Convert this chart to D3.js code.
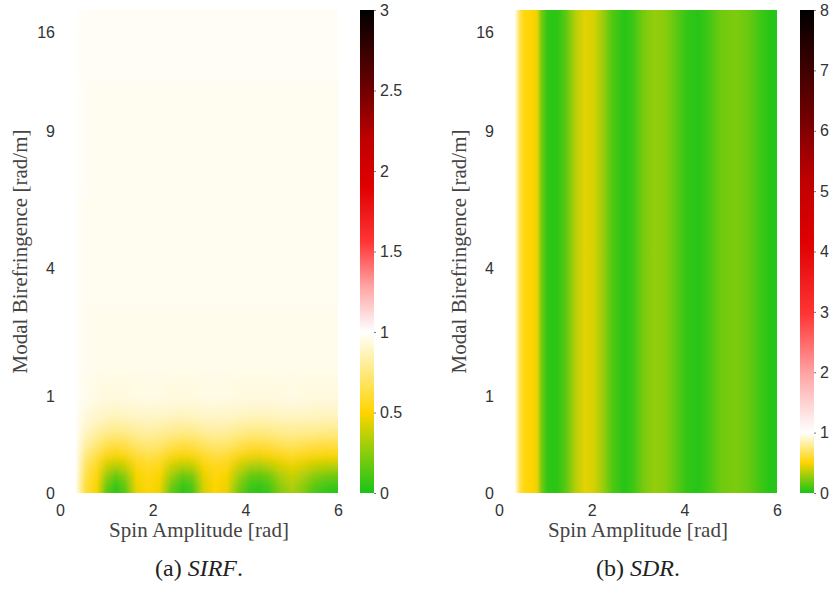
<!DOCTYPE html>
<html>
<head>
<meta charset="utf-8">
<script src="https://cdn.jsdelivr.net/npm/d3@7"></script>
<style>
  body { margin: 0; background: #fff; }
</style>
</head>
<body>
<div id="chart"></div>
<script>
// tick labels
var spinTicks = [0, 2, 4, 6];
var biroTicks = [0, 1, 4, 9, 16];
var sirfBarTicks = [0, 0.5, 1, 1.5, 2, 2.5, 3];
var sdrBarTicks = [0, 1, 2, 3, 4, 5, 6, 7, 8];

// SIRF map: columns = spin amplitude [rad], rows = modal birefringence [rad/m]
var sirfSpin = [0.35, 0.55, 0.8, 1.0, 1.2, 1.4, 1.65, 1.9, 2.15, 2.4, 2.65, 2.85, 3.1,
  3.35, 3.6, 3.85, 4.1, 4.3, 4.5, 4.75, 5.0, 5.25, 5.5, 5.75, 6.0];
var sirfBiro = [0, 0.1, 0.2, 0.3, 0.4, 0.5, 0.6, 0.7, 0.8, 0.9, 1, 2, 4, 9, 16, 17.5];
var sirfValues = [
  [0.95,0.62,0.48,0.15,0.04,0.13,0.45,0.51,0.46,0.16,0.04,0.09,0.40,0.50,0.45,0.20,0.06,0.04,0.07,0.22,0.30,0.22,0.10,0.05,0.03],
  [0.95,0.63,0.49,0.20,0.07,0.17,0.46,0.52,0.47,0.21,0.07,0.13,0.42,0.51,0.46,0.24,0.09,0.07,0.11,0.26,0.34,0.26,0.15,0.10,0.08],
  [0.96,0.66,0.52,0.30,0.19,0.27,0.49,0.54,0.50,0.31,0.19,0.23,0.45,0.53,0.49,0.32,0.19,0.17,0.21,0.33,0.39,0.34,0.26,0.22,0.20],
  [0.96,0.70,0.57,0.42,0.36,0.41,0.54,0.58,0.55,0.42,0.36,0.39,0.51,0.56,0.54,0.42,0.34,0.33,0.36,0.43,0.47,0.43,0.39,0.37,0.36],
  [0.97,0.76,0.64,0.54,0.50,0.53,0.61,0.65,0.62,0.54,0.50,0.52,0.59,0.63,0.61,0.54,0.49,0.48,0.50,0.54,0.57,0.54,0.52,0.51,0.50],
  [0.97,0.82,0.73,0.65,0.62,0.64,0.70,0.73,0.71,0.65,0.62,0.63,0.68,0.71,0.70,0.65,0.61,0.60,0.62,0.65,0.67,0.65,0.63,0.62,0.62],
  [0.98,0.87,0.80,0.75,0.73,0.74,0.78,0.80,0.78,0.75,0.73,0.74,0.77,0.79,0.78,0.75,0.72,0.72,0.73,0.75,0.76,0.75,0.74,0.73,0.73],
  [0.98,0.91,0.86,0.83,0.81,0.82,0.84,0.85,0.84,0.82,0.81,0.82,0.84,0.85,0.84,0.82,0.81,0.80,0.81,0.82,0.83,0.82,0.82,0.81,0.81],
  [0.98,0.93,0.90,0.88,0.87,0.88,0.89,0.89,0.89,0.88,0.87,0.88,0.89,0.89,0.89,0.88,0.87,0.87,0.87,0.88,0.88,0.88,0.87,0.87,0.87],
  [0.99,0.95,0.93,0.92,0.91,0.92,0.92,0.93,0.92,0.92,0.91,0.92,0.92,0.93,0.92,0.92,0.91,0.91,0.91,0.92,0.92,0.92,0.91,0.91,0.91],
  [0.99,0.96,0.95,0.94,0.94,0.94,0.95,0.95,0.95,0.94,0.94,0.94,0.95,0.95,0.95,0.94,0.94,0.94,0.94,0.94,0.95,0.94,0.94,0.94,0.94],
  [0.99,0.97,0.96,0.96,0.96,0.96,0.96,0.96,0.96,0.96,0.96,0.96,0.96,0.96,0.96,0.96,0.96,0.96,0.96,0.96,0.96,0.96,0.96,0.96,0.96],
  [0.99,0.97,0.97,0.97,0.97,0.97,0.97,0.97,0.97,0.97,0.97,0.97,0.97,0.97,0.97,0.97,0.97,0.97,0.97,0.97,0.97,0.97,0.97,0.97,0.97],
  [0.99,0.98,0.97,0.97,0.97,0.97,0.97,0.97,0.97,0.97,0.97,0.97,0.97,0.97,0.97,0.97,0.97,0.97,0.97,0.97,0.97,0.97,0.97,0.97,0.97],
  [0.99,0.98,0.98,0.98,0.98,0.98,0.98,0.98,0.98,0.98,0.98,0.98,0.98,0.98,0.98,0.98,0.98,0.98,0.98,0.98,0.98,0.98,0.98,0.98,0.98],
  [0.99,0.98,0.98,0.98,0.98,0.98,0.98,0.98,0.98,0.98,0.98,0.98,0.98,0.98,0.98,0.98,0.98,0.98,0.98,0.98,0.98,0.98,0.98,0.98,0.98]
];

// SDR map: same along birefringence, only varies with spin amplitude
var sdrSpin = [0.35, 0.45, 0.55, 0.7, 0.82, 0.92, 1.05, 1.25, 1.45, 1.65, 1.85, 2.05, 2.25, 2.45,
  2.7, 2.9, 3.1, 3.35, 3.6, 3.85, 4.05, 4.3, 4.5, 4.8, 5.1, 5.4, 5.65, 5.85, 6.0];
var sdrValues = [0.95, 0.65, 0.53, 0.5, 0.46, 0.2, 0.05, 0.04, 0.15, 0.34, 0.44, 0.41, 0.28, 0.12,
  0.03, 0.08, 0.2, 0.27, 0.24, 0.14, 0.06, 0.03, 0.08, 0.19, 0.22, 0.17, 0.08, 0.03, 0.03];

var chart = {
  width: 829,
  height: 596,
  top: 10,
  bottom: 493,
}

var panels = [
  { id: "sirf", left: 60, right: 338, bar: 360, cmax: 3, barTicks: sirfBarTicks, tag: "(a) ", name: "SIRF", capX: 199 },
  { id: "sdr", left: 499, right: 777, bar: 800, cmax: 8, barTicks: sdrBarTicks, tag: "(b) ", name: "SDR", capX: 638 },
];

var tickFont = "'Liberation Sans', Arial, sans-serif";
var labelFont = "'Liberation Serif', 'Times New Roman', serif";

/* colour map: green -> yellow -> white at 1, then white -> red -> black at cmax */
function colorMap(cmax) {
  let upper = [0, 0.14, 0.28, 0.45, 0.6, 0.75, 1];
  return d3.scaleLinear()
    .domain([0, 0.5, 1].concat(upper.slice(1).map((t) => 1 + t * (cmax - 1))))
    .range(["#18c418", "#ffd400", "#ffffff", "#ffa4a4", "#ff3535", "#e00000", "#bf0000", "#700000", "#000000"])
    .interpolate(d3.interpolateRgb)
    .clamp(true);
}

var svg = d3.select("#chart")
  .append("svg")
  .attr("width", chart.width)
  .attr("height", chart.height);

var defs = svg.append("defs");

defs.append("filter")
  .attr("id", "vblur")
  .attr("x", "-5%").attr("y", "-5%")
  .attr("width", "110%").attr("height", "110%")
  .append("feGaussianBlur")
  .attr("stdDeviation", "0 5");

/* y is stretched like the original axis: ticks at 0, 1, 4, 9, 16 */
var y = d3.scaleLinear()
  .domain([0, 1, 4, 9, 16, 17.5])
  .range([chart.bottom, 396, 268, 131, 32, chart.top]);

function hGradient(id, x, spin, values, color) {
  let x1 = x(spin[0]), x2 = x(spin[spin.length - 1]);
  let grad = defs.append("linearGradient")
    .attr("id", id)
    .attr("gradientUnits", "userSpaceOnUse")
    .attr("x1", x1).attr("x2", x2)
    .attr("y1", 0).attr("y2", 0);
  grad.selectAll("stop")
    .data(spin)
    .enter()
    .append("stop")
    .attr("offset", (d) => (x(d) - x1) / (x2 - x1))
    .attr("stop-color", (d, i) => color(values[i]));
}

panels.forEach((p) => {
  let x = d3.scaleLinear().domain([0, 6]).range([p.left, p.right]);
  let color = colorMap(p.cmax);
  let g = svg.append("g");

  defs.append("clipPath")
    .attr("id", "clip-" + p.id)
    .append("rect")
    .attr("x", p.left).attr("y", chart.top)
    .attr("width", p.right - p.left).attr("height", chart.bottom - chart.top);

  let map = g.append("g").attr("clip-path", "url(#clip-" + p.id + ")");

  if (p.id === "sirf") {
    let rows = map.append("g").attr("filter", "url(#vblur)");
    sirfBiro.forEach((b, j) => {
      hGradient("sirf-row-" + j, x, sirfSpin, sirfValues[j], color);
      let yc = y(b);
      let y0 = j === sirfBiro.length - 1 ? chart.top - 20 : (yc + y(sirfBiro[j + 1])) / 2;
      let y1 = j === 0 ? chart.bottom + 20 : (yc + y(sirfBiro[j - 1])) / 2;
      rows.append("rect")
        .attr("x", x(sirfSpin[0]))
        .attr("width", x(6) - x(sirfSpin[0]))
        .attr("y", y0)
        .attr("height", y1 - y0 + 0.5)
        .attr("fill", "url(#sirf-row-" + j + ")");
    });
  } else {
    hGradient("sdr-grad", x, sdrSpin, sdrValues, color);
    map.append("rect")
      .attr("x", x(sdrSpin[0]))
      .attr("width", x(6) - x(sdrSpin[0]))
      .attr("y", chart.top)
      .attr("height", chart.bottom - chart.top)
      .attr("fill", "url(#sdr-grad)");
  }

  /* axes */
  g.append("g")
    .attr("transform", `translate(0,${chart.bottom})`)
    .call(d3.axisBottom(x).tickValues(spinTicks).tickFormat((d) => String(d)).tickSize(0).tickPadding(12))
    .call((a) => a.select(".domain").remove());

  g.append("g")
    .attr("transform", `translate(${p.left},0)`)
    .call(d3.axisLeft(y).tickValues(biroTicks).tickFormat((d) => String(d)).tickSize(0).tickPadding(5))
    .call((a) => a.select(".domain").remove());

  /* colour bar */
  let c = d3.scaleLinear().domain([0, p.cmax]).range([chart.bottom, chart.top]);
  let barGrad = defs.append("linearGradient")
    .attr("id", "bar-" + p.id)
    .attr("x1", 0).attr("x2", 0)
    .attr("y1", 1).attr("y2", 0);
  barGrad.selectAll("stop")
    .data(color.domain())
    .enter()
    .append("stop")
    .attr("offset", (d) => d / p.cmax)
    .attr("stop-color", (d) => color(d));

  g.append("rect")
    .attr("x", p.bar).attr("y", chart.top)
    .attr("width", 14).attr("height", chart.bottom - chart.top)
    .attr("fill", "url(#bar-" + p.id + ")");

  g.append("g")
    .attr("transform", `translate(${p.bar + 14},0)`)
    .call(d3.axisRight(c).tickValues(p.barTicks).tickFormat((d) => String(d)).tickSize(2).tickPadding(4))
    .call((a) => a.select(".domain").remove())
    .call((a) => a.selectAll(".tick line").attr("stroke", "#777"));

  g.selectAll(".tick text")
    .attr("fill", "#333")
    .style("font-family", tickFont)
    .style("font-size", "16px");

  /* labels */
  g.append("text")
    .attr("x", (p.left + p.right) / 2)
    .attr("y", 537)
    .attr("text-anchor", "middle")
    .attr("fill", "#444")
    .attr("textLength", 180)
    .attr("lengthAdjust", "spacing")
    .style("font-family", labelFont)
    .style("font-size", "21px")
    .text("Spin Amplitude [rad]");

  g.append("text")
    .attr("transform", `translate(${p.left - 33},${(chart.top + chart.bottom) / 2}) rotate(-90)`)
    .attr("text-anchor", "middle")
    .attr("fill", "#444")
    .attr("textLength", 244)
    .attr("lengthAdjust", "spacing")
    .style("font-family", labelFont)
    .style("font-size", "21px")
    .text("Modal Birefringence [rad/m]");

  let cap = g.append("text")
    .attr("x", p.capX)
    .attr("y", 576)
    .attr("text-anchor", "middle")
    .attr("fill", "#222")
    .style("font-family", labelFont)
    .style("font-size", "24px");
  cap.append("tspan").text(p.tag);
  cap.append("tspan").attr("font-style", "italic").text(p.name);
  cap.append("tspan").text(".");
});
</script>
</body>
</html>
